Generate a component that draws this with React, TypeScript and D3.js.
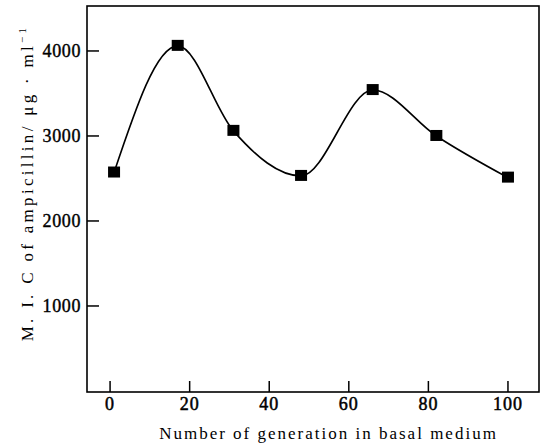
import React from "react";
import * as d3 from "d3";

// values
const generations = [1, 17, 31, 48, 66, 82, 100];
const micValues = [2570, 4060, 3060, 2530, 3540, 3000, 2510];
const xTicks = [0, 20, 40, 60, 80, 100];
const yTicks = [1000, 2000, 3000, 4000];

const width = 545;
const height = 445;
const left = 87;
const right = 539;
const top = 6;
const bottom = 392;

const font = "Liberation Serif, DejaVu Serif, serif";

export default function App() {
  const x = d3.scaleLinear().domain([-5.8, 107.8]).range([left, right]);
  const y = d3.scaleLinear().domain([-12, 4529]).range([bottom, top]);

  const points = generations.map((g, i) => [g, micValues[i]] as [number, number]);
  const line = d3
    .line<[number, number]>()
    .x(d => x(d[0]))
    .y(d => y(d[1]))
    .curve(d3.curveMonotoneX);

  const sq = 12;

  return (
    <svg
      width={width}
      height={height}
      style={{ position: "absolute", left: 0, top: 0, background: "#fff", fontFamily: font }}
    >
      <rect x={0} y={0} width={width} height={height} fill="#fff" />
      {/* frame */}
      <rect
        x={left}
        y={top}
        width={right - left}
        height={bottom - top}
        fill="none"
        stroke="#000"
        strokeWidth={1.6}
      />
      {/* x ticks, drawn inward */}
      {xTicks.map(t => (
        <g key={"x" + t}>
          <line x1={x(t)} x2={x(t)} y1={bottom} y2={bottom - 11} stroke="#000" strokeWidth={1.5} />
          <text
            x={x(t)}
            y={bottom + 18}
            textAnchor="middle"
            style={{ fontFamily: font, fontSize: 18, letterSpacing: 1 }}
            stroke="#000"
            strokeWidth={0.5}
          >
            {t}
          </text>
        </g>
      ))}
      {/* y ticks */}
      {yTicks.map(t => (
        <g key={"y" + t}>
          <line x1={left} x2={left + 12} y1={y(t)} y2={y(t)} stroke="#000" strokeWidth={1.5} />
          <text
            x={left - 6}
            y={y(t) + 6}
            textAnchor="end"
            style={{ fontFamily: font, fontSize: 18, letterSpacing: 0.6 }}
            stroke="#000"
            strokeWidth={0.4}
          >
            {t}
          </text>
        </g>
      ))}
      <path d={line(points) ?? ""} fill="none" stroke="#000" strokeWidth={1.6} />
      {points.map((p, i) => (
        <rect
          key={i}
          x={x(p[0]) - sq / 2}
          y={y(p[1]) - sq / 2}
          width={sq}
          height={sq - 1}
          fill="#000"
        />
      ))}
      <text
        x={(160 + 497) / 2}
        y={439}
        textAnchor="middle"
        style={{ fontFamily: font, fontSize: 17, letterSpacing: 2 }}
      >
        Number of generation in basal medium
      </text>
      <text
        transform={`translate(33,${183}) rotate(-90)`}
        textAnchor="middle"
        style={{ fontFamily: font, fontSize: 17, letterSpacing: 3.3 }}
      >
        M.  I.  C of ampicillin/ μg · ml
        <tspan dy={-7} style={{ fontSize: 11 }}>−1</tspan>
      </text>
    </svg>
  );
}
